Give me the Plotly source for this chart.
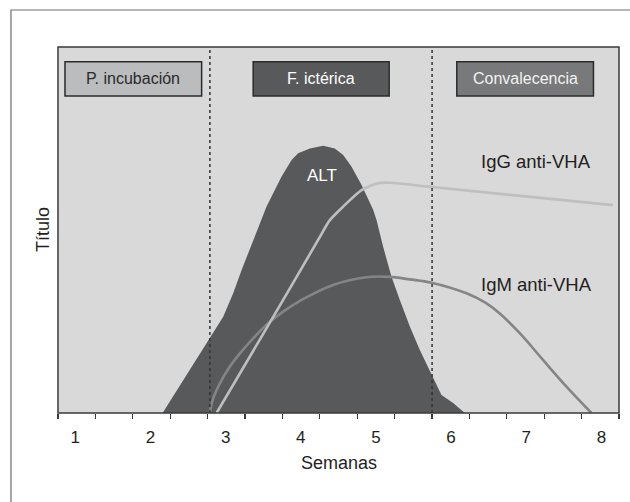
import numpy as np
import plotly.graph_objects as go

# ---- data (semanas vs título, arbitrary 0-100 scale) ----
alt_x = [2.162, 2.658, 2.791, 2.968, 3.101, 3.213, 3.545, 3.745, 3.878, 3.965, 4.121,
         4.298, 4.453, 4.564, 4.676, 4.809, 4.963, 5.008, 5.096, 5.207, 5.318, 5.451,
         5.584, 5.739, 5.872, 6.027, 6.182]
alt_y = [0, 16.3, 20.4, 26.3, 32.7, 39.1, 56.4, 64.6, 69.1, 71.0, 72.3,
         73.0, 72.3, 70.5, 67.3, 62.3, 55.5, 52.7, 45.4, 37.2, 30.9, 23.6,
         17.2, 10.4, 4.9, 2.7, 0]

igg_x = [2.880, 3.766, 4.231, 4.387, 4.564, 4.809, 5.029, 5.200, 5.717, 8.154]
igg_y = [0, 30.9, 47.3, 52.7, 56.4, 60.9, 62.8, 62.9, 61.8, 56.8]

igm_x = [2.791, 2.835, 2.924, 3.057, 3.190, 3.367, 3.566, 3.766, 4.011, 4.431, 4.875,
         5.185, 5.451, 5.739, 6.205, 6.450, 6.648, 6.914, 7.223, 7.535, 7.867]
igm_y = [0.3, 4.0, 8.1, 12.7, 16.3, 20.4, 24.5, 27.7, 30.9, 35.0, 37.1,
         37.2, 36.5, 35.6, 32.7, 30.2, 27.2, 21.8, 14.5, 7.2, 0]

week_ticks = [1, 2, 3, 4, 5, 6, 7, 8]
week_labels = ["1", "2", "3", "4", "5", "6", "7", "8"]
phase_bounds = [2.791, 5.747]
phases = ["P. incubación", "F. ictérica", "Convalecencia"]
phase_x0 = [0.863, 3.367, 6.076]
phase_x1 = [2.681, 5.176, 7.894]

X_RANGE = [0.77, 8.234]
FONT = "Liberation Sans, Arial, sans-serif"

fig = go.Figure()

fig.add_trace(go.Scatter(x=alt_x, y=alt_y, mode="lines", fill="toself",
                         fillcolor="#58595b", line=dict(width=0, color="#58595b"),
                         hoverinfo="skip", showlegend=False))
fig.add_trace(go.Scatter(x=igm_x, y=igm_y, mode="lines",
                         line=dict(color="#858587", width=2.6, shape="spline", smoothing=1.0),
                         hoverinfo="skip", showlegend=False))
fig.add_trace(go.Scatter(x=igg_x, y=igg_y, mode="lines",
                         line=dict(color="#bebfc1", width=2.6, shape="spline", smoothing=0.7),
                         hoverinfo="skip", showlegend=False))
# invisible trace to realise the tick-mark axis
fig.add_trace(go.Scatter(x=[X_RANGE[0]], y=[0], xaxis="x2", mode="none",
                         hoverinfo="skip", showlegend=False))

shapes = []
# dotted phase separators
for xb in phase_bounds:
    shapes.append(dict(type="line", xref="x", yref="paper", x0=xb, x1=xb, y0=0, y1=1,
                       line=dict(color="#333333", width=1.5, dash="dot"), layer="above"))
# phase boxes
box_fill = ["#bbbcbe", "#58595b", "#78797b"]
box_text = ["#2a2a2a", "#ffffff", "#f2f2f2"]
for i, p in enumerate(phases):
    shapes.append(dict(type="rect", xref="x", yref="y", x0=phase_x0[i], x1=phase_x1[i],
                       y0=86.6, y1=96.0, fillcolor=box_fill[i],
                       line=dict(color="#2b2b2b", width=1.5), layer="above"))
# plot frame
shapes.append(dict(type="rect", xref="paper", yref="paper", x0=0, x1=1, y0=0, y1=1,
                   line=dict(color="#3a3a3a", width=1.5), layer="above"))
# outer frame (extends past the right/bottom edges)
shapes.append(dict(type="rect", xref="paper", yref="paper", x0=-0.0838, x1=1.2,
                   y0=-0.6, y1=1.1011, line=dict(color="#6e6e6e", width=1.2),
                   fillcolor="rgba(0,0,0,0)", layer="below"))

annotations = []
for i, p in enumerate(phases):
    annotations.append(dict(x=(phase_x0[i] + phase_x1[i]) / 2, y=91.3, xref="x", yref="y",
                            text=p, showarrow=False,
                            font=dict(family=FONT, size=16, color=box_text[i])))
annotations += [
    dict(x=4.277, y=64.8, xref="x", yref="y", text="ALT", showarrow=False,
         font=dict(family=FONT, size=17, color="#ffffff")),
    dict(x=7.136, y=68.7, xref="x", yref="y", text="IgG anti-VHA", showarrow=False,
         font=dict(family=FONT, size=18.5, color="#231f20")),
    dict(x=7.136, y=35.0, xref="x", yref="y", text="IgM anti-VHA", showarrow=False,
         font=dict(family=FONT, size=18.5, color="#231f20")),
    dict(x=0.5, y=-0.137, xref="paper", yref="paper", text="Semanas", showarrow=False,
         yanchor="middle", font=dict(family=FONT, size=18, color="#231f20")),
    dict(x=-0.0267, y=0.5, xref="paper", yref="paper", text="Título", showarrow=False,
         textangle=-90, xanchor="center", yanchor="middle",
         font=dict(family=FONT, size=18, color="#231f20")),
]

fig.update_layout(
    width=630, height=502,
    margin=dict(l=58, r=11, t=47, b=89),
    paper_bgcolor="white", plot_bgcolor="#d9d9d9",
    showlegend=False, hovermode=False,
    font=dict(family=FONT, color="#231f20"),
    shapes=shapes, annotations=annotations,
    xaxis=dict(range=X_RANGE, tickmode="array", tickvals=week_ticks, ticktext=week_labels,
               ticks="", showgrid=False, zeroline=False, showline=False,
               ticklabelstandoff=12, tickfont=dict(family=FONT, size=17, color="#231f20")),
    xaxis2=dict(range=X_RANGE, overlaying="x", side="bottom", tickmode="array",
                tickvals=list(np.linspace(X_RANGE[0], X_RANGE[1], 16)),
                ticks="outside", ticklen=5, tickwidth=1.3, tickcolor="#3a3a3a",
                showticklabels=False, showgrid=False, zeroline=False, showline=False),
    yaxis=dict(range=[0, 100], showticklabels=False, ticks="", showgrid=False,
               zeroline=False, showline=False),
)

fig.write_html("out.html", config={"displayModeBar": False, "staticPlot": True},
               post_script="document.body.style.margin='0';document.body.style.overflow='hidden';")
